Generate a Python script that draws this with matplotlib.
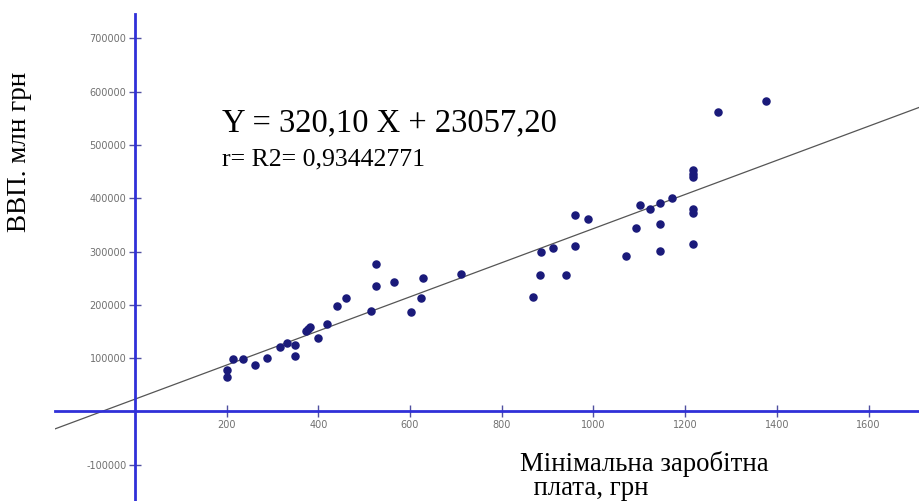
import numpy as np
import matplotlib.pyplot as plt
from matplotlib.ticker import FixedLocator, FuncFormatter

# minimal wage (UAH) vs GDP (mln UAH)
wage = np.array([202, 202, 214, 236, 262, 289, 316, 331, 350, 350,
                 374, 378, 382, 400, 420, 440, 460, 515, 525, 525,
                 566, 603, 623, 629, 711,
                 869, 884, 886, 912, 940, 960, 960, 989, 1072, 1093,
                 1101, 1123, 1146, 1146, 1146, 1171, 1216, 1216, 1216, 1216,
                 1216, 1216, 1271, 1376])
gdp = np.array([77900, 65300, 98500, 98500, 87800, 101000, 121600, 129000, 124800, 104700,
                151000, 155000, 159000, 137300, 164000, 198000, 213000, 189000, 276000, 235500,
                243500, 187000, 213500, 250000, 258000,
                214800, 256000, 299000, 306000, 256000, 310000, 368700, 362000, 291000, 345000,
                387000, 379000, 392000, 351000, 301000, 401000, 453000, 445500, 439000, 379000,
                373000, 315000, 561000, 583000])

slope = 320.10
intercept = 23057.20

x_ticks = [200, 400, 600, 800, 1000, 1200, 1400, 1600]
y_ticks = [-100000, 100000, 200000, 300000, 400000, 500000, 600000, 700000]

W, H = 920, 501
fig = plt.figure(figsize=(W / 100, H / 100), dpi=100)
ax = fig.add_axes([55 / W, 0, 1 - 55 / W, (H - 14) / H])

xmin, xmax = -174, 1712
ymin, ymax = -167900, 745700
ax.set_xlim(xmin, xmax)
ax.set_ylim(ymin, ymax)

axis_blue = '#3030d8'
for side in ['top', 'right']:
    ax.spines[side].set_visible(False)
for side in ['left', 'bottom']:
    ax.spines[side].set_position(('data', 0))
    ax.spines[side].set_color(axis_blue)
    ax.spines[side].set_linewidth(2)

ax.xaxis.set_major_locator(FixedLocator(x_ticks))
ax.yaxis.set_major_locator(FixedLocator(y_ticks))
ax.yaxis.set_major_formatter(FuncFormatter(lambda v, p: '%d' % v))
ax.tick_params(direction='inout', length=8, width=1, color='#5050a0',
               labelsize=7, labelcolor='#707070', pad=2)

# regression line
lx = np.array([xmin, xmax])
ax.plot(lx, slope * lx + intercept, color='#555555', linewidth=0.9, zorder=2)

ax.scatter(wage, gdp, s=26, color='#1a1a7a', zorder=3)

def px(x, y):
    return x / W, 1 - y / H

serif = ['Liberation Serif', 'DejaVu Serif']
fig.text(*px(222, 131), 'Y = 320,10 X + 23057,20', fontsize=23.5,
         family=serif, va='baseline', ha='left')
fig.text(*px(222, 165), 'r= R2= 0,93442771', fontsize=18.5,
         family=serif, va='baseline', ha='left')
fig.text(*px(20, 152), 'ВВП. млн грн', fontsize=19.5, family=serif,
         rotation=90, va='center', ha='center')
fig.text(*px(520, 495), 'Мінімальна заробітна\n  плата, грн', fontsize=19.3,
         family=serif, va='baseline', ha='left', linespacing=0.97)

plt.savefig('out.png', dpi=100)
